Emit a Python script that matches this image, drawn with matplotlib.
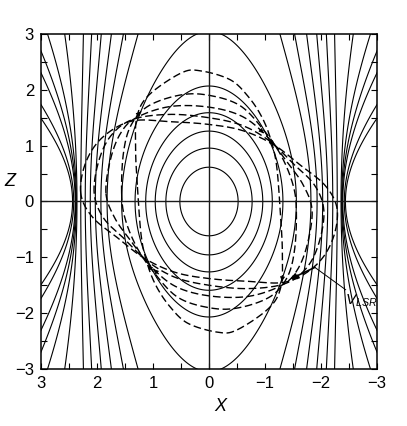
import numpy as np
import matplotlib
matplotlib.use("Agg")
import matplotlib.pyplot as plt

plt.rcParams['font.family'] = ['Liberation Sans', 'DejaVu Sans']
plt.rcParams['mathtext.fontset'] = 'custom'
plt.rcParams['mathtext.it'] = 'Liberation Sans:italic'
plt.rcParams['mathtext.rm'] = 'Liberation Sans'

# ---------------- data ----------------
# solid curves: positions where they cross Z=0 (inside the pinch line)
x_pinch = 2.35
inner_crossings = [0.52, 0.77, 0.96, 1.13, 1.32, 1.56, 1.82, 1.93, 2.03, 2.12, 2.21, 2.29]
# solid curves outside the pinch line (levels of the outer family)
outer_levels = [0.12, 0.30, 0.46, 0.62, 1.05, 1.38]
z_shape_a, z_shape_b = 0.14, 0.07   # vertical stretching of the inner family
d_outer = 0.3                         # curvature of the outer family

# dashed loops: upper halves (the lower half is the point reflection)
loop1_x = [1.28, 1.31, 1.29, 1.08, 0.50, 0.15, -0.38, -0.70, -0.94, -1.10, -1.21]
loop1_z = [0.30, 0.90, 1.50, 1.90, 2.30, 2.34, 2.18, 1.88, 1.52, 1.12, 0.62]
loop2_x = [1.56, 1.53, 1.40, 1.10, 0.55, 0.05, -0.55, -1.00, -1.30, -1.50]
loop2_z = [0.15, 0.85, 1.35, 1.70, 1.90, 1.91, 1.72, 1.25, 0.80, 0.30]
loop3_x = [1.84, 1.76, 1.58, 1.30, 0.70, 0.00, -0.60, -1.05, -1.40, -1.68]
loop3_z = [0.15, 0.75, 1.22, 1.50, 1.70, 1.69, 1.52, 1.15, 0.70, 0.30]
loop4_x = [2.05, 1.97, 1.75, 1.36, 0.70, 0.00, -0.60, -1.10, -1.50, -1.88]
loop4_z = [0.15, 0.72, 1.18, 1.47, 1.56, 1.50, 1.36, 1.07, 0.68, 0.30]
loop5_x = [2.29, 2.20, 1.90, 1.38, 0.70, 0.00, -0.60, -1.15, -1.62, -2.08]
loop5_z = [0.15, 0.70, 1.15, 1.44, 1.43, 1.38, 1.27, 1.02, 0.66, 0.28]

# small direction marks on the loops: (loop number, X, Z)
mark_loop = [2, 3, 4, 2, 3, 1, 4]
mark_x = [1.17, -0.97, -1.15, 1.02, 0.98, -1.33, -1.51]
mark_z = [1.55, 1.23, 0.99, -1.10, -1.22, -1.43, -1.34]

vlsr_label = r'$V_{LSR}$'
vlsr_tail = (-1.89, -1.18)
vlsr_head = (-1.45, -1.39)
vlsr_text = (-2.42, -1.78)

ticks_major = [-3, -2, -1, 0, 1, 2, 3]

# ---------------- figure ----------------
fig = plt.figure(figsize=(4.07, 4.26), dpi=100)
ax = fig.add_axes([0.1007, 0.1338, 0.8256, 0.7864])

g = np.linspace(-3.2, 3.2, 801)
X, Z = np.meshgrid(g, g)
R = X**2 - x_pinch**2
D_in = 1 + z_shape_a * Z**2 / (1 + z_shape_b * Z**2)
D_out = Z**2 + d_outer
F = np.where(R < 0, R / D_in, R / D_out)

levels = sorted([c**2 - x_pinch**2 for c in inner_crossings] + list(outer_levels))
ax.contour(X, Z, F, levels=levels, colors='black', linewidths=0.8,
           linestyles='solid')


def closed_spline(px, pz, n=40):
    P = np.column_stack([px, pz])
    N = len(P)
    segs = []
    t = np.linspace(0, 1, n, endpoint=False)[:, None]
    for i in range(N):
        p0, p1, p2, p3 = P[i - 1], P[i], P[(i + 1) % N], P[(i + 2) % N]
        seg = 0.5 * (2 * p1 + (-p0 + p2) * t
                     + (2 * p0 - 5 * p1 + 4 * p2 - p3) * t**2
                     + (-p0 + 3 * p1 - 3 * p2 + p3) * t**3)
        segs.append(seg)
    segs.append(P[:1])
    S = np.vstack(segs)
    return S[:, 0], S[:, 1]


curves = []
for lx, lz in [(loop1_x, loop1_z), (loop2_x, loop2_z), (loop3_x, loop3_z),
               (loop4_x, loop4_z), (loop5_x, loop5_z)]:
    fx = list(lx) + [-v for v in lx]
    fz = list(lz) + [-v for v in lz]
    sx, sz = closed_spline(fx, fz)
    curves.append((sx, sz))
    ax.plot(sx, sz, color='black', lw=1.0, linestyle=(0, (5.5, 2.6)))

# direction marks (orbits run clockwise on the page, i.e. X decreasing on top)
for li, mx, mz in zip(mark_loop, mark_x, mark_z):
    sx, sz = curves[li - 1]
    i = int(np.argmin((sx - mx)**2 + (sz - mz)**2))
    j = (i + 1) % (len(sx) - 1)
    ax.annotate('', xy=(sx[j], sz[j]), xytext=(sx[i - 1], sz[i - 1]),
                arrowprops=dict(arrowstyle='-|>', color='black', lw=0.6,
                                mutation_scale=7, shrinkA=0, shrinkB=0))

ax.axhline(0, color='#1a1a1a', lw=1.0)
ax.axvline(0, color='#1a1a1a', lw=1.0)

# V_LSR arrow and label
ax.annotate('', xy=vlsr_head, xytext=vlsr_tail,
            arrowprops=dict(arrowstyle='-|>', color='black', lw=1.2,
                            mutation_scale=9, shrinkA=0, shrinkB=0))
ax.plot([vlsr_tail[0], vlsr_text[0] - 0.02], [vlsr_tail[1], vlsr_text[1] + 0.2],
        color='black', lw=0.7)
ax.text(vlsr_text[0], vlsr_text[1], vlsr_label, fontsize=11, ha='left',
        va='center')

ax.set_xlim(3, -3)
ax.set_ylim(-3, 3)
ax.set_xticks(ticks_major)
ax.set_yticks(ticks_major)
ax.set_xticks(np.arange(-2.5, 3, 1.0), minor=True)
ax.set_yticks(np.arange(-2.5, 3, 1.0), minor=True)
ax.tick_params(which='both', direction='in', top=True, right=True,
               length=4, width=0.8, labelsize=12, pad=5)
for s in ax.spines.values():
    s.set_linewidth(1.1)

ax.set_xlabel('X', fontsize=13, style='italic')
ax.set_ylabel('Z', fontsize=13, style='italic', rotation=0)
ax.xaxis.set_label_coords(0.533, -0.087)
ax.yaxis.set_label_coords(-0.092, 0.534)

fig.savefig('out.png', dpi=100)
